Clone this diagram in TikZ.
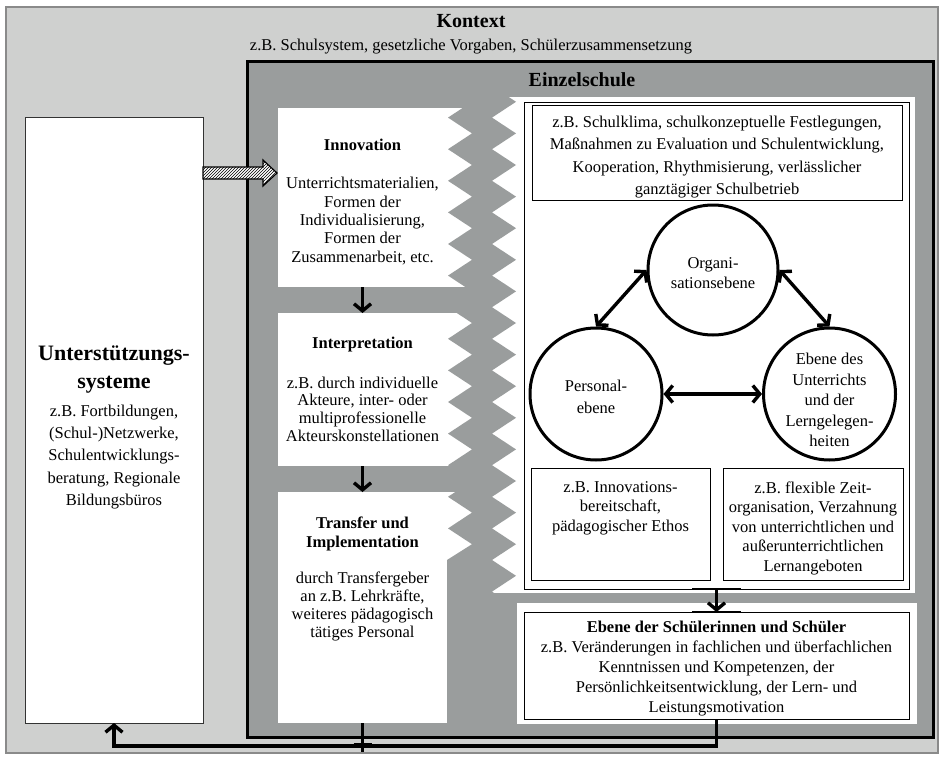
\documentclass[tikz,border=0pt]{standalone}
\usepackage{fontspec}
\setmainfont{Liberation Serif}
\usetikzlibrary{arrows.meta,patterns,calc}
\definecolor{ltgray}{HTML}{CFD0CF}
\definecolor{dkgray}{HTML}{9A9D9D}
\definecolor{framegray}{HTML}{8A8A8A}
\begin{document}
\begin{tikzpicture}[x=1pt,y=-1pt,
  txt/.style={inner sep=0pt, align=center, font=\fontsize{16.5}{#1}\selectfont},
  txt/.default=20,
  btxt/.style={inner sep=0pt, align=center, font=\bfseries\fontsize{16.5}{#1}\selectfont},
  btxt/.default=19,
  title/.style={inner sep=0pt, align=center, font=\bfseries\fontsize{20}{24}\selectfont},
  rect/.style={rectangle, inner sep=0pt, outer sep=0pt},
  wbox/.style={rect, fill=white, draw=none},
  tbox/.style={rect, fill=white, draw=black, line width=1pt},
  ring/.style={circle, draw=black, line width=3pt, inner sep=0pt, fill=white},
  conn/.style={line width=3.4pt, -{Straight Barb[length=7pt,width=17pt]}},
  dconn/.style={line width=3.4pt, {Straight Barb[length=7pt,width=17pt]}-{Straight Barb[length=7pt,width=17pt]}},
  plain/.style={line width=3.4pt},
  barline/.style={line width=2.4pt}
]
\useasboundingbox (0,0) rectangle (942,757);
\fill[white] (0,0) rectangle (942,757);

% Kontext
\node[rect, fill=ltgray, draw=framegray, line width=1.5pt, minimum width=932pt, minimum height=746pt] (ctx) at (472,380) {};
% Einzelschule
\node[rect, fill=dkgray, draw=black, line width=3pt, minimum width=686pt, minimum height=675pt] (es) at (590,399.5) {};

% Unterstuetzungssysteme
\node[rect, fill=white, draw=black!80, line width=1pt, minimum width=178pt, minimum height=605pt] (us) at (114,420.5) {};

% left column boxes
\node[wbox, minimum width=194pt, minimum height=179pt] (inno) at (375,197.5) {};
\node[wbox, minimum width=194pt, minimum height=153pt] (interp) at (375,389.5) {};
\node[wbox, minimum width=194pt, minimum height=231pt] (trans) at (375,607.5) {};

% right panel white area
\node[wbox, minimum width=430pt, minimum height=496pt] (pw) at (700,345) {};

% zigzag band
\begin{scope}
\clip (249,64) rectangle (931,735);
\fill[dkgray] (492,54.4)
  \foreach \k in {-3,...,13} { -- (516,{165+31.6*\k}) -- (492,{180.8+31.6*\k}) }
  -- (516,607.4) -- (517,740) -- (447,740) -- (447,560)
  \foreach \k in {12,11,...,-3} { -- (472,{165+31.6*\k}) -- (448,{149.2+31.6*\k}) }
  -- cycle;
\end{scope}

% right panel content
\node[rect, draw=black, line width=1pt, minimum width=385pt, minimum height=486pt] (panel) at (716.5,346) {};
\node[tbox, minimum width=370pt, minimum height=94pt] (klima) at (717,153) {};
\node[tbox, minimum width=179pt, minimum height=112pt] (pbox) at (620.5,524) {};
\node[tbox, minimum width=180pt, minimum height=112pt] (ubox) at (813,524) {};
\node[ring, minimum size=130pt] (org) at (713,270) {};
\node[ring, minimum size=132pt] (pers) at (596,394) {};
\node[ring, minimum size=132pt] (unt) at (829.5,394) {};

% Schueler
\node[wbox, minimum width=400pt, minimum height=121pt] (sw) at (717,663.5) {};
\node[tbox, minimum width=385pt, minimum height=107pt] (sch) at (716.5,665.5) {};

% texts
\node[title] (tkontext) at (471,21) {Kontext};
\node[txt] (tkontextsub) at (471,47) {z.B. Schulsystem, gesetzliche Vorgaben, Schülerzusammensetzung};
\node[title] (tes) at (582,80) {Einzelschule};

\node[inner sep=0pt, align=center, font=\bfseries\fontsize{22}{28}\selectfont] (ust) at (114,370) {Unterstützungs-\\systeme};
\node[txt=22.2] (usb) at (114,457) {z.B. Fortbildungen,\\(Schul-)Netzwerke,\\Schulentwicklungs-\\beratung, Regionale\\Bildungsbüros};

\node[btxt] (innot) at (362.5,145) {Innovation};
\node[txt=18.3] (innob) at (362.5,221) {Unterrichtsmaterialien,\\Formen der\\Individualisierung,\\Formen der\\Zusammenarbeit, etc.};
\node[btxt] (interpt) at (362.5,345) {Interpretation};
\node[txt=17.7] (interpb) at (362.5,409) {z.B. durch individuelle\\Akteure, inter- oder\\multiprofessionelle\\Akteurskonstellationen};
\node[btxt=19] (transt) at (362.5,534) {Transfer und\\Implementation};
\node[txt=18] (transb) at (362.5,606) {durch Transfergeber\\an z.B. Lehrkräfte,\\weiteres pädagogisch\\tätiges Personal};

\node[txt=22.3] (klimat) at (717,157) {z.B. Schulklima, schulkonzeptuelle Festlegungen,\\Maßnahmen zu Evaluation und Schulentwicklung,\\Kooperation, Rhythmisierung, verlässlicher\\ganztägiger Schulbetrieb};
\node[txt=20] (orgt) at (713,273) {Organi-\\sationsebene};
\node[txt=22] (perst) at (596,397) {Personal-\\ebene};
\node[txt=20.5] (untt) at (829.5,400) {Ebene des\\Unterrichts\\und der\\Lerngelegen-\\heiten};
\node[txt=19.4] (pboxt) at (620.5,508) {z.B. Innovations-\\bereitschaft,\\pädagogischer Ethos};
\node[txt=19.5] (uboxt) at (813,528) {z.B. flexible Zeit-\\organisation, Verzahnung\\von unterrichtlichen und\\außerunterrichtlichen\\Lernangeboten};
\node[txt=20] (scht) at (716.5,669) {\textbf{Ebene der Schülerinnen und Schüler}\\z.B. Veränderungen in fachlichen und überfachlichen\\Kenntnissen und Kompetenzen, der\\Persönlichkeitsentwicklung, der Lern- und\\Leistungsmotivation};

% hatched arrow
\path[draw=black, line width=1.2pt, preaction={fill=white}, pattern=north east lines]
  (203,167) -- (263,167) -- (263,160) -- (277,173) -- (263,186) -- (263,179) -- (203,179) -- cycle;

% connectors
\draw[conn] ($(inno.south west)+(84.5,0)$) -- ($(interp.north west)+(84.5,0)$);
\draw[conn] ($(interp.south west)+(84.5,0)$) -- ($(trans.north west)+(84.5,0)$);
\draw[dconn] (pers.north) -- (org.west);
\draw[dconn] (org.east) -- (unt.north);
\draw[dconn] (pers.east) -- (unt.west);
\draw[conn] (panel.south) -- (sch.north);
\draw[barline] ($(panel.south)+(-24.5,0)$) -- ($(panel.south)+(24.5,0)$);
\draw[barline] ($(sch.north)+(-24.5,0)$) -- ($(sch.north)+(24.5,0)$);
\coordinate (cb) at ($(us.south)+(0,23)$);
\draw[conn] (sch.south) |- (cb) -- (us.south);
\coordinate (tend) at ($(trans.south west)+(84.5,29)$);
\draw[plain] ($(trans.south west)+(84.5,0)$) -- (tend);
\draw[barline] ($(trans.south west)+(75.5,21)$) -- ($(trans.south west)+(93.5,21)$);
\end{tikzpicture}
\end{document}
